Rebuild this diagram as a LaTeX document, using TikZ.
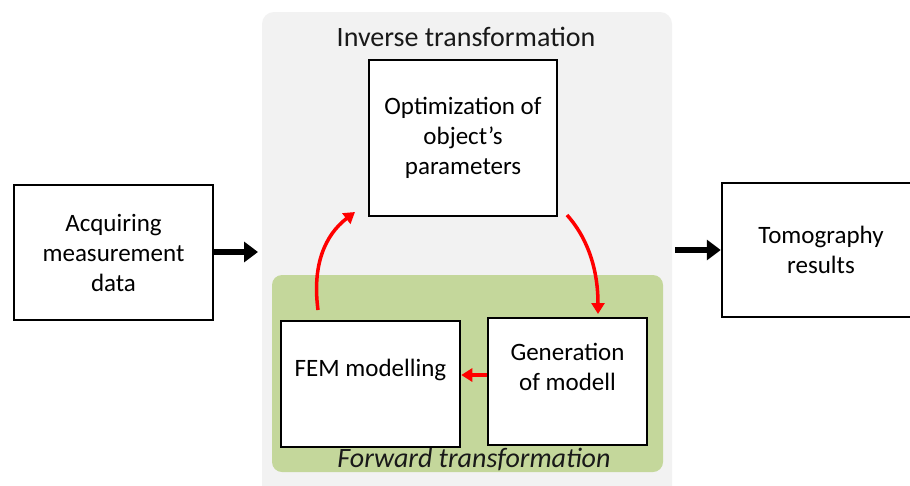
\documentclass[tikz,border=0pt]{standalone}
\usepackage{fontspec}
\setmainfont{Carlito}
\usetikzlibrary{arrows.meta}
\definecolor{bgGray}{HTML}{F2F2F2}
\definecolor{fwGreen}{HTML}{C4D79B}
\definecolor{arrRed}{HTML}{FF0000}
\tikzset{
  box/.style={draw=black, line width=2.5pt, fill=white, inner sep=0pt},
  boxtext/.style={align=center, font=\fontsize{25}{30}\selectfont},
  title/.style={font=\fontsize{28}{32}\selectfont, text=black!90},
  bigarrow/.style={line width=6pt, -{Triangle[length=14pt,width=20pt]}},
  redarrow/.style={draw=arrRed, line width=3.5pt, -{Triangle[length=11pt,width=13pt]}}
}
\begin{document}
\begin{tikzpicture}[x=1pt,y=-1pt]
\useasboundingbox (0,0) rectangle (910,485);
\fill[white] (0,0) rectangle (910,485);
% backgrounds
\fill[bgGray, rounded corners=12pt] (262,12) rectangle (672,500);
\fill[fwGreen, rounded corners=10pt] (272,275) rectangle (663,472);
% titles
\node[title] (inv) at (466,37) {Inverse transformation};
\node[title, font=\fontsize{28}{32}\selectfont\itshape] (fwd) at (474,459) {Forward transformation};
% boxes
\node[box, boxtext, minimum width=199pt, minimum height=135pt] (acq) at (113.5,252.5) {Acquiring\\measurement\\data};
\node[box, boxtext, minimum width=198pt, minimum height=134pt] (tomo) at (821,250) {Tomography\\results};
\node[box, boxtext, minimum width=188pt, minimum height=156pt] (opt) at (463,138) {Optimization of\\object's\\parameters};
\node[box, minimum width=179pt, minimum height=126pt] (fem) at (370.5,384) {};
\node[boxtext] (femt) at ([yshift=14pt]fem.center) {FEM modelling};
\node[box, minimum width=159pt, minimum height=127pt] (gen) at (567.5,381.5) {};
\node[boxtext] (gent) at ([yshift=15pt]gen.center) {Generation\\of modell};
% black arrows
\coordinate (inEnd) at (258,252);
\coordinate (outStart) at (675,250);
\draw[bigarrow] (acq.east |- inEnd) -- (inEnd);
\draw[bigarrow] (outStart) -- (tomo.west |- outStart);
% red arrows
\coordinate (femTop) at (318,310);
\coordinate (optIn) at (355,212);
\coordinate (optOut) at (567,215);
\coordinate (genTop) at (598,314);
\draw[redarrow] (femTop) .. controls (312,265) and (325,235) .. (optIn);
\draw[redarrow] (optOut) .. controls (585,235) and (598,265) .. (genTop);
\coordinate (midY) at (0,375);
\draw[redarrow] (gen.west |- midY) -- (fem.east |- midY);
\end{tikzpicture}
\end{document}
